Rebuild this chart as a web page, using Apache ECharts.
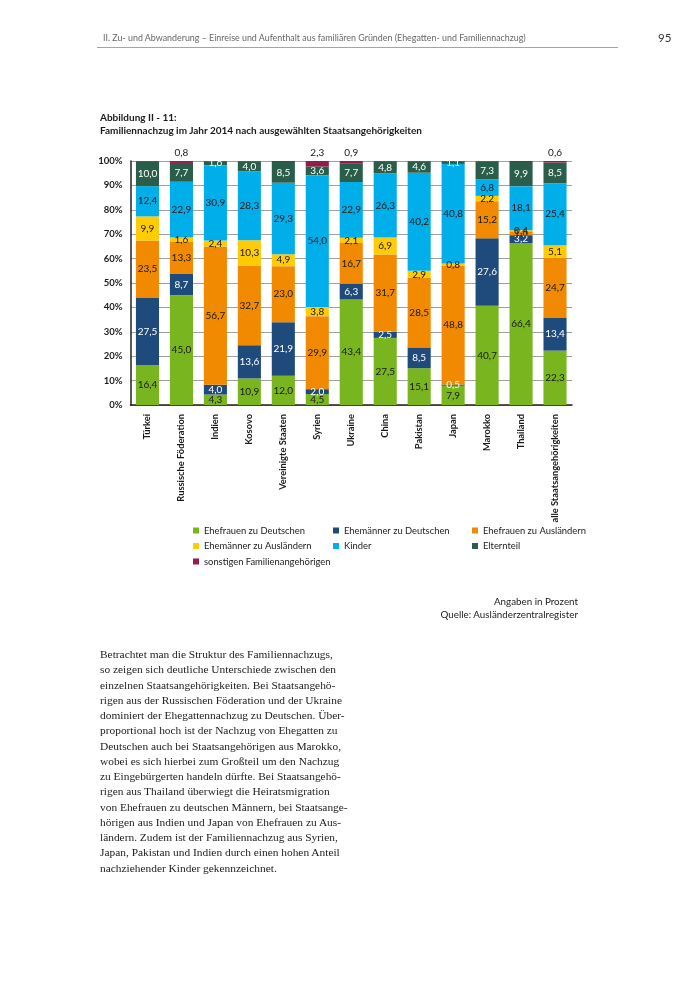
<!DOCTYPE html>
<html><head><meta charset="utf-8">
<script src="https://cdn.jsdelivr.net/npm/echarts@6/dist/echarts.min.js"></script>
<style>
html,body{margin:0;padding:0;background:#fff;}
#page{position:relative;width:700px;height:990px;overflow:hidden;}
#chart{position:absolute;left:0;top:0;width:700px;height:990px;}
.hdr{position:absolute;left:103px;top:32px;font-family:Lato,"Noto Sans",sans-serif;font-size:8.9px;color:#666;}
.pg{position:absolute;left:658px;top:31px;font-family:Lato,"Noto Sans",sans-serif;font-size:11.5px;color:#333;}
.rule{position:absolute;left:97px;top:47px;width:521px;height:1px;background:#6bb6e0;}
.ttl{position:absolute;left:100px;top:111px;font-family:Lato,"Noto Sans",sans-serif;font-size:10px;font-weight:bold;color:#1a1a1a;line-height:13px;}
.src{position:absolute;right:122px;top:595px;text-align:right;font-family:Lato,"Noto Sans",sans-serif;font-size:9.8px;color:#222;line-height:12.5px;}
.body{position:absolute;left:100px;top:647px;font-family:"Liberation Serif","DejaVu Serif",serif;font-size:11.4px;color:#222;line-height:15.25px;white-space:pre;}
</style></head>
<body><div id="page">
<div id="chart"></div>
<div class="hdr">II. Zu- und Abwanderung – Einreise und Aufenthalt aus familiären Gründen (Ehegatten- und Familiennachzug)</div>
<div class="pg">95</div>
<div class="rule"></div>
<div class="ttl">Abbildung II - 11:<br>Familiennachzug im Jahr 2014 nach ausgewählten Staatsangehörigkeiten</div>
<div class="src">Angaben in Prozent<br>Quelle: Ausländerzentralregister</div>
<div class="body">Betrachtet man die Struktur des Familiennachzugs,
so zeigen sich deutliche Unterschiede zwischen den
einzelnen Staatsangehörigkeiten. Bei Staatsangehö-
rigen aus der Russischen Föderation und der Ukraine
dominiert der Ehegattennachzug zu Deutschen. Über-
proportional hoch ist der Nachzug von Ehegatten zu
Deutschen auch bei Staatsangehörigen aus Marokko,
wobei es sich hierbei zum Großteil um den Nachzug
zu Eingebürgerten handeln dürfte. Bei Staatsangehö-
rigen aus Thailand überwiegt die Heiratsmigration
von Ehefrauen zu deutschen Männern, bei Staatsange-
hörigen aus Indien und Japan von Ehefrauen zu Aus-
ländern. Zudem ist der Familiennachzug aus Syrien,
Japan, Pakistan und Indien durch einen hohen Anteil
nachziehender Kinder gekennzeichnet.</div>
</div>
<script>
const categories = ["Türkei","Russische Föderation","Indien","Kosovo","Vereinigte Staaten","Syrien","Ukraine","China","Pakistan","Japan","Marokko","Thailand","alle Staatsangehörigkeiten"];
const ehefrauenZuDeutschen = [16.4,45.0,4.3,10.9,12.0,4.5,43.4,27.5,15.1,7.9,40.7,66.4,22.3];
const ehemaennerZuDeutschen = [27.5,8.7,4.0,13.6,21.9,2.0,6.3,2.5,8.5,0.5,27.6,3.2,13.4];
const ehefrauenZuAuslaendern = [23.5,13.3,56.7,32.7,23.0,29.9,16.7,31.7,28.5,48.8,15.2,1.6,24.7];
const ehemaennerZuAuslaendern = [9.9,1.6,2.4,10.3,4.9,3.8,2.1,6.9,2.9,0.8,2.2,0.4,5.1];
const kinder = [12.4,22.9,30.9,28.3,29.3,54.0,22.9,26.3,40.2,40.8,6.8,18.1,25.4];
const elternteil = [10.0,7.7,1.6,4.0,8.5,3.6,7.7,4.8,4.6,1.1,7.3,9.9,8.5];
const sonstige = [0.3,0.8,0.1,0.2,0.4,2.3,0.9,0.3,0.2,0.1,0.2,0.4,0.6];
const yTicks = [0,10,20,30,40,50,60,70,80,90,100];

const fmt = v => v.toFixed(1).replace('.', ',');
const FONT = "Lato, Noto Sans, sans-serif";
const labelFont = {fontFamily: FONT, fontSize: 10};

function mk(name, data, color, textColor, extra) {
  return Object.assign({
    name: name, type: 'bar', stack: 'total', data: data,
    barCategoryGap: '32%',
    itemStyle: {color: color},
    label: Object.assign({show: true, position: 'inside', color: textColor,
      formatter: p => fmt(p.value)}, labelFont),
    emphasis: {disabled: true}
  }, extra || {});
}

const series = [
  mk('Ehefrauen zu Deutschen', ehefrauenZuDeutschen, '#78b51f', '#1a1a1a'),
  mk('Ehemänner zu Deutschen', ehemaennerZuDeutschen, '#1f4a7c', '#ffffff'),
  mk('Ehefrauen zu Ausländern', ehefrauenZuAuslaendern, '#f18a00', '#1a1a1a'),
  mk('Ehemänner zu Ausländern', ehemaennerZuAuslaendern, '#ffcb05', '#1a1a1a'),
  mk('Kinder', kinder, '#00aeea', '#1a1a1a'),
  mk('Elternteil', elternteil, '#2a5e4a', '#ffffff'),
  mk('sonstigen Familienangehörigen', sonstige, '#951b4c', '#1a1a1a', {
    label: Object.assign({show: true, position: 'top', distance: 3, color: '#1a1a1a',
      formatter: p => p.value >= 0.5 ? fmt(p.value) : ''}, labelFont)
  })
];

const legendText = {fontFamily: FONT, fontSize: 9.4, color: '#222'};
function lg(left, names) {
  return {left: left, top: 521, orient: 'vertical', itemWidth: 6, itemHeight: 6, itemGap: 6.5,
    icon: 'rect', textStyle: legendText, data: names, selectedMode: false};
}

const chart = echarts.init(document.getElementById('chart'), null, {renderer: 'canvas'});
chart.setOption({
  animation: false,
  grid: {left: 130.5, right: 128, top: 161, bottom: 585, containLabel: false},
  legend: [
    lg(188, ['Ehefrauen zu Deutschen','Ehemänner zu Ausländern','sonstigen Familienangehörigen']),
    lg(328, ['Ehemänner zu Deutschen','Kinder']),
    lg(467, ['Ehefrauen zu Ausländern','Elternteil'])
  ],
  xAxis: {
    type: 'category', data: categories,
    axisLine: {lineStyle: {color: '#222', width: 1.5}},
    axisTick: {show: false},
    axisLabel: {rotate: 90, interval: 0, margin: 9, color: '#1a1a1a', fontWeight: 'bold',
      fontFamily: FONT, fontSize: 9.3}
  },
  yAxis: {
    type: 'value', min: yTicks[0], max: yTicks[yTicks.length-1], interval: 10,
    axisLine: {show: true, lineStyle: {color: '#222', width: 1.5}},
    axisTick: {show: false},
    splitLine: {lineStyle: {color: '#a0a0a0', width: 1}},
    axisLabel: {formatter: '{value}%', margin: 8, color: '#1a1a1a', fontWeight: 'bold',
      fontFamily: FONT, fontSize: 9.5}
  },
  series: series
});
</script>
</body></html>
